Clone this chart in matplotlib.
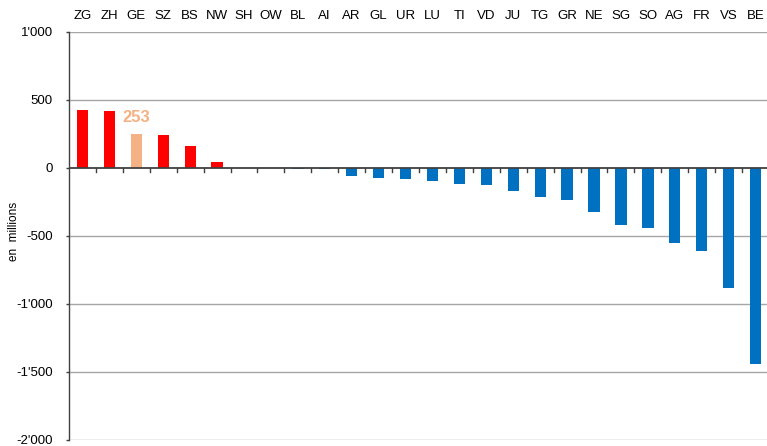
import matplotlib
matplotlib.use("Agg")
import matplotlib.pyplot as plt
from matplotlib.ticker import FuncFormatter

cantons = ["ZG", "ZH", "GE", "SZ", "BS", "NW", "SH", "OW", "BL", "AI", "AR", "GL", "UR",
           "LU", "TI", "VD", "JU", "TG", "GR", "NE", "SG", "SO", "AG", "FR", "VS", "BE"]
values = [427, 420, 253, 244, 163, 46, 2, -2, -5, -5, -56, -71, -78,
          -93, -115, -122, -171, -215, -232, -325, -416, -442, -555, -612, -885, -1442]
highlight = "GE"

RED = "#FF0000"
BLUE = "#0070C0"
LIGHT = "#F4B183"

colors = []
for c, v in zip(cantons, values):
    if c == highlight:
        colors.append(LIGHT)
    elif v >= 0:
        colors.append(RED)
    else:
        colors.append(BLUE)

plt.rcParams["font.family"] = ["Liberation Sans", "DejaVu Sans"]

W, H = 767, 446
fig = plt.figure(figsize=(W / 100, H / 100), dpi=100)
ax = fig.add_axes([69 / W, 1 - 440 / H, (769 - 69) / W, (440 - 32) / H])

x = list(range(len(cantons)))
ax.bar(x, values, width=0.42, color=colors, zorder=3)

ax.set_xlim(-0.5, len(cantons) - 0.5)
ax.set_ylim(-2000, 1000)
ax.set_yticks([-2000, -1500, -1000, -500, 0, 500, 1000])
ax.yaxis.set_major_formatter(FuncFormatter(lambda v, p: f"{int(v):,}".replace(",", "'")))
ax.tick_params(axis="y", direction="out", length=2.5, width=1, color="#404040",
               labelsize=9.5, pad=9)

for yv in [-2000, -1500, -1000, -500, 500, 1000]:
    ax.axhline(yv, color="#A6A6A6", linewidth=1.0, zorder=1)

# zero line with category separator ticks hanging below it
ax.axhline(0, color="#404040", linewidth=1.3, zorder=4)
for i in range(1, len(cantons)):
    ax.plot([i - 0.5, i - 0.5], [0, -30], color="#404040", linewidth=1.0, zorder=4,
            clip_on=False)

ax.set_xticks(x)
ax.set_xticklabels(cantons)
ax.xaxis.set_ticks_position("top")
ax.tick_params(axis="x", length=0, labelsize=9.5, pad=7)

for s in ["top", "right", "bottom"]:
    ax.spines[s].set_visible(False)
ax.spines["left"].set_color("#404040")
ax.spines["left"].set_linewidth(1.0)

fig.text(14 / W, 1 - 231 / H, "en  millions", rotation=90, fontsize=8.5,
         ha="center", va="center")

gi = cantons.index(highlight)
ax.text(gi, values[gi] + 60, str(values[gi]), color=LIGHT, fontsize=12,
        fontweight="bold", ha="center", va="bottom", zorder=5)

fig.savefig("out.png", dpi=100)
